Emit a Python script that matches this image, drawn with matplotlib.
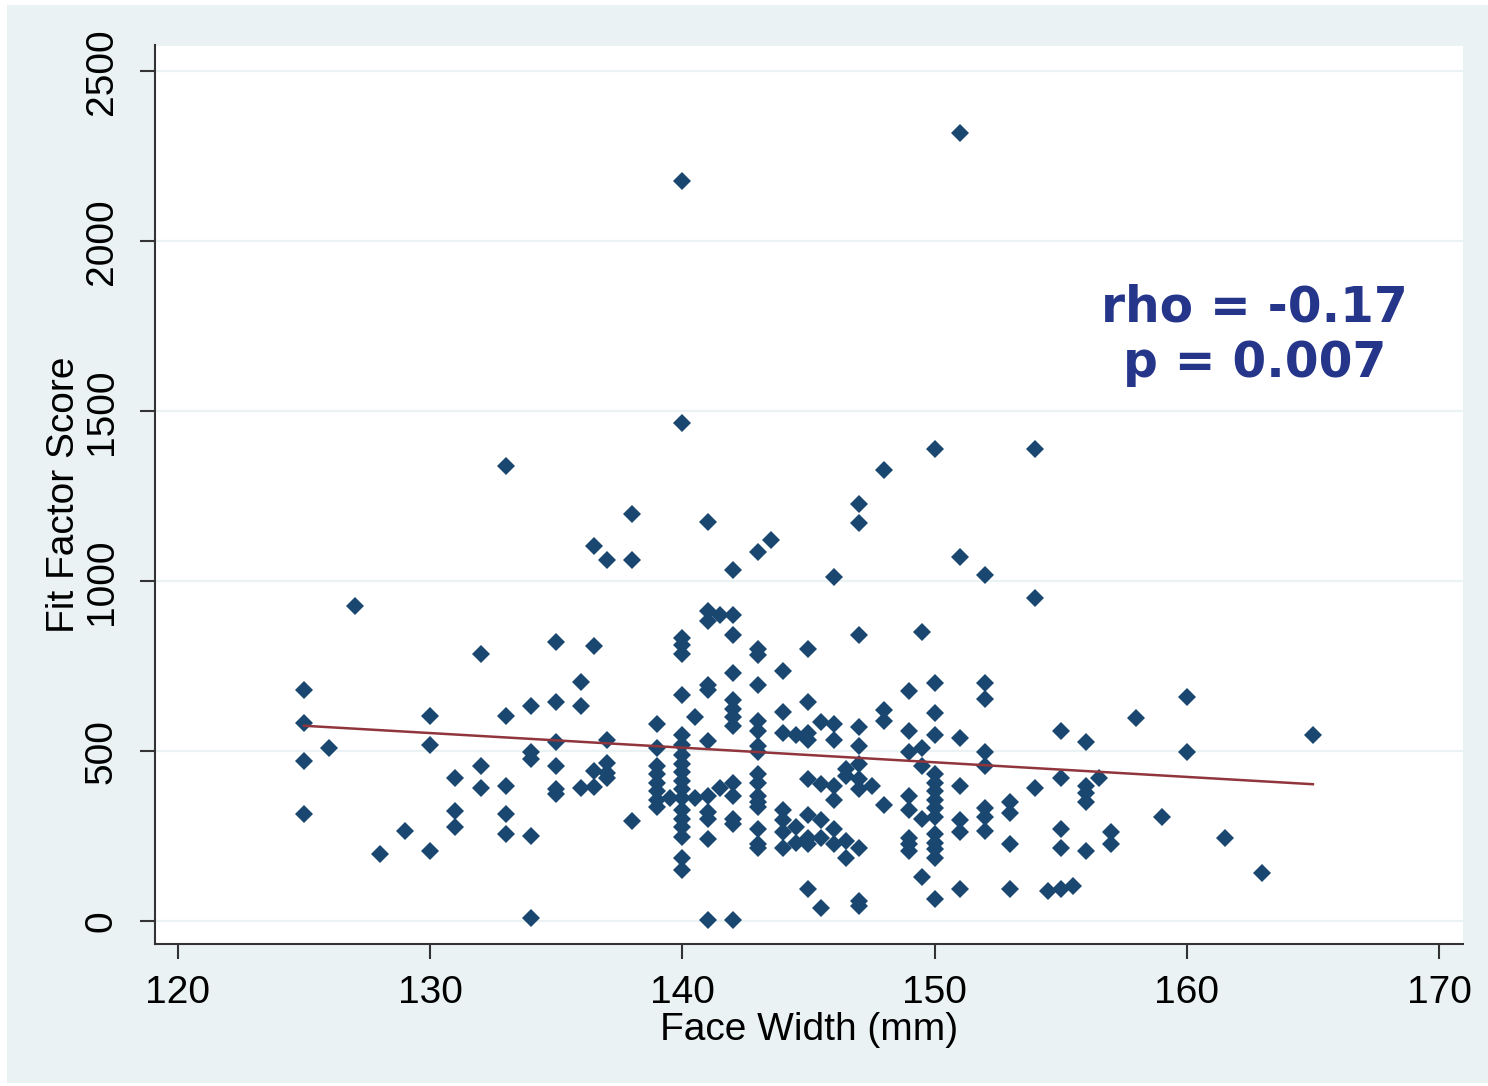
import matplotlib
matplotlib.use("Agg")
import matplotlib.pyplot as plt
from matplotlib.patches import Rectangle
import numpy as np

# Face width (mm) and fit factor score, grouped by face width value
groups = {
    125: [681, 583, 471, 314],
    126: [511],
    127: [928],
    128: [199],
    129: [265],
    130: [604, 519, 208],
    131: [420, 324, 277],
    132: [787, 456, 391],
    133: [1340, 604, 398, 314, 257],
    134: [632, 499, 476, 250, 9],
    135: [822, 645, 526, 456, 388, 373],
    136: [703, 632, 391],
    136.5: [1105, 810, 441, 394],
    137: [1064, 534, 465, 435, 421],
    138: [1198, 1064, 295],
    139: [580, 509, 458, 433, 408, 382, 357, 337],
    139.5: [362],
    140: [2177, 1466, 832, 812, 787, 665, 549, 519, 489, 463, 438, 413,
          388, 362, 327, 302, 277, 247, 186, 150],
    140.5: [600, 362],
    141: [1175, 913, 883, 696, 681, 529, 367, 322, 302, 241, 4],
    141.5: [901, 393],
    142: [1034, 901, 842, 731, 650, 625, 600, 574, 408, 367, 302, 287, 4],
    143: [1085, 802, 782, 696, 590, 559, 514, 499, 433, 408, 367, 352,
          337, 271, 226, 216],
    143.5: [1120],
    144: [736, 615, 554, 327, 297, 261, 216],
    144.5: [549, 277, 231],
    145: [802, 645, 554, 534, 418, 312, 246, 226, 95],
    145.5: [585, 403, 297, 246, 39],
    146: [1014, 580, 534, 398, 357, 271, 226],
    146.5: [448, 428, 236, 186],
    147: [1226, 1170, 842, 570, 514, 463, 418, 388, 216, 59, 44],
    147.5: [398],
    148: [1327, 620, 590, 342],
    149: [676, 561, 499, 367, 327, 246, 226, 206],
    149.5: [852, 509, 458, 302, 130],
    150: [1388, 701, 612, 549, 433, 408, 382, 357, 332, 307, 256, 231,
          211, 186, 65],
    151: [2319, 1070, 539, 398, 297, 261, 95],
    152: [1019, 701, 655, 499, 458, 332, 307, 266],
    153: [352, 317, 226, 95],
    154: [1388, 950, 391],
    154.5: [90],
    155: [561, 420, 272, 214, 95],
    155.5: [103],
    156: [526, 398, 378, 352, 208],
    156.5: [420],
    157: [261, 226],
    158: [598],
    159: [307],
    160: [660, 499],
    161.5: [244],
    163: [143],
    165: [547],
}
face_width = [w for w, vals in groups.items() for _ in vals]
fit_score = [v for vals in groups.values() for v in vals]

# Linear fit line endpoints
fit_x = [125, 165]
fit_y = [575, 403]

x_ticks = [120, 130, 140, 150, 160, 170]
y_ticks = [0, 500, 1000, 1500, 2000, 2500]

W, H = 1488, 1086
fig = plt.figure(figsize=(W / 100, H / 100), dpi=100, facecolor="white")
bg = Rectangle((7 / W, 0.003), 1 - 7 / W, 1 - 0.003 - 5 / H,
               transform=fig.transFigure, facecolor="#EAF2F3",
               edgecolor="none", zorder=-10)
fig.add_artist(bg)

ax = fig.add_axes([154.5 / W, 1 - 944 / H, (1462.7 - 154.5) / W, (944 - 45.5) / H])
ax.set_zorder(1)
ax.set_facecolor("white")
ax.set_xlim(119.07, 170.94)
ax.set_ylim(-67, 2576)

ax.yaxis.grid(True, color="#EAF2F3", linewidth=1.6)
ax.xaxis.grid(False)
ax.set_axisbelow(True)

ax.plot(face_width, fit_score, linestyle="none", marker="D", markersize=8.8,
        color="#1A476F", markeredgewidth=0, zorder=3)
ax.plot(fit_x, fit_y, color="#90353B", linewidth=1.8, zorder=4)

for side in ("top", "right"):
    ax.spines[side].set_visible(False)
for side in ("left", "bottom"):
    ax.spines[side].set_color("#333333")
    ax.spines[side].set_linewidth(1.5)

label_font = ["Liberation Sans Narrow", "Liberation Sans", "DejaVu Sans"]
fs = 28
ax.set_xticks(x_ticks)
ax.set_yticks(y_ticks)
ax.set_xticklabels([str(t) for t in x_ticks], family=label_font, fontsize=fs)
ax.set_yticklabels([str(t) for t in y_ticks], family=label_font, fontsize=fs,
                   rotation=90, va="center")
ax.tick_params(axis="both", direction="out", length=11, width=1.5,
               color="#333333")
ax.tick_params(axis="x", pad=11)
ax.tick_params(axis="y", pad=14)

ax.set_xlabel("Face Width (mm)", family=label_font, fontsize=fs, labelpad=1)
ax.set_ylabel("Fit Factor Score", family=label_font, fontsize=fs, labelpad=1)

ax.text(0.841, 0.678, "rho = -0.17\np = 0.007", transform=ax.transAxes,
        ha="center", va="center", fontsize=35, fontweight="bold",
        family="DejaVu Sans", color="#24358A", linespacing=1.2)

fig.savefig("out.png", dpi=100, facecolor=fig.get_facecolor())
